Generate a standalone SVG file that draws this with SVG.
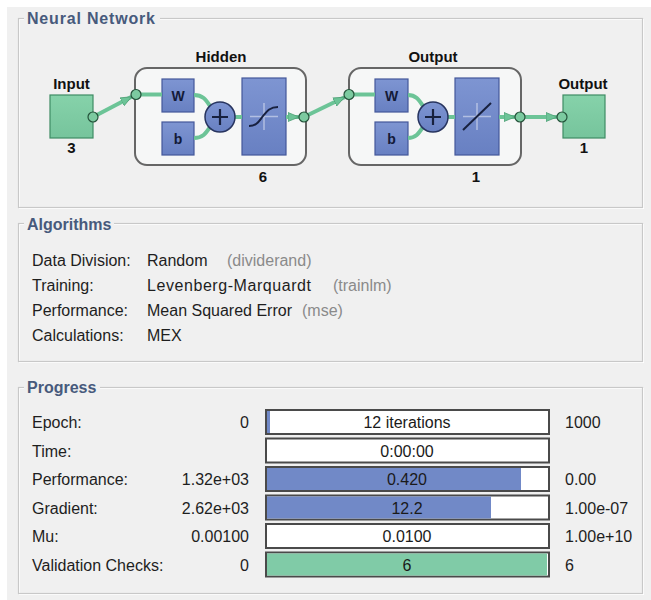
<svg xmlns="http://www.w3.org/2000/svg" width="651" height="600" viewBox="0 0 651 600">
<defs>
<style>
.frame{fill:none;stroke:#c8c8c8;stroke-width:1.2}
.frameHi{fill:none;stroke:#ffffff;stroke-width:1}
.title{font-family:"Liberation Sans",Arial,sans-serif;font-weight:bold;font-size:16px;fill:#475a7c}
.txt{font-family:"Liberation Sans",Arial,sans-serif;font-size:16px;fill:#1e1e1e}
.gray{font-family:"Liberation Sans",Arial,sans-serif;font-size:16px;fill:#8a8a8a}
.lbl{font-family:"Liberation Sans",Arial,sans-serif;font-weight:bold;font-size:15px;fill:#111;text-anchor:middle}
.box{font-family:"Liberation Sans",Arial,sans-serif;font-weight:bold;font-size:14px;fill:#131a38;text-anchor:middle}
.layer{fill:#f6f7f7;stroke:#666;stroke-width:2}
.blue{fill:url(#gBlue);stroke:#44589a;stroke-width:1.2}
.green{fill:url(#gGreen);stroke:#3f8c64;stroke-width:1.2}
.dot{fill:#7ccaa0;stroke:#24523a;stroke-width:1.2}
.wire{fill:none;stroke:#6cc497;stroke-width:4}
.bar{fill:#ffffff;stroke:#4a4a4a;stroke-width:2}
.bt{font-family:"Liberation Sans",Arial,sans-serif;font-size:16px;fill:#1a1a1a;text-anchor:middle}
.val{font-family:"Liberation Sans",Arial,sans-serif;font-size:16px;fill:#1e1e1e;text-anchor:end}
</style>
<linearGradient id="gBlue" x1="0" y1="0" x2="0" y2="1">
<stop offset="0" stop-color="#7e95d2"/><stop offset="1" stop-color="#6880c2"/>
</linearGradient>
<linearGradient id="gGreen" x1="0" y1="0" x2="0" y2="1">
<stop offset="0" stop-color="#86d2aa"/><stop offset="1" stop-color="#76c49c"/>
</linearGradient>
<marker id="arr" markerWidth="12" markerHeight="10" refX="11" refY="5" orient="auto" markerUnits="userSpaceOnUse">
<path d="M0,0.5 L11,5 L0,9.5 Z" fill="#6cc497" stroke="#4f9f76" stroke-width="0.8"/>
</marker>
</defs>

<rect x="0" y="0" width="651" height="600" fill="#ffffff"/>
<rect x="7" y="7" width="644" height="593" fill="#f0f0f0"/>

<!-- frames -->
<g id="frames">
<rect class="frameHi" x="19.5" y="19.5" width="624" height="189"/>
<rect class="frame" x="18.5" y="18.5" width="624" height="189"/>
<rect class="frameHi" x="19.5" y="224.5" width="624" height="138"/>
<rect class="frame" x="18.5" y="223.5" width="624" height="138"/>
<rect class="frameHi" x="19.5" y="388.5" width="624" height="206"/>
<rect class="frame" x="18.5" y="387.5" width="624" height="206"/>
<rect x="24" y="8" width="136" height="16" fill="#f0f0f0"/>
<rect x="24" y="214" width="90" height="16" fill="#f0f0f0"/>
<rect x="24" y="378" width="76" height="16" fill="#f0f0f0"/>
<text class="title" x="27" y="24" textLength="128">Neural Network</text>
<text class="title" x="27" y="230">Algorithms</text>
<text class="title" x="27" y="393">Progress</text>
</g>

<!-- input node -->
<g id="input">
<text class="lbl" x="71.5" y="89">Input</text>
<rect class="green" x="50" y="95" width="43" height="43"/>
<text class="lbl" x="71.5" y="153">3</text>
</g>

<!-- hidden layer -->
<g id="hidden">
<text class="lbl" x="221" y="62">Hidden</text>
<rect class="layer" x="135" y="68" width="171" height="97" rx="12"/>
<rect class="blue" x="162" y="79" width="32" height="33"/>
<text class="box" x="178" y="100.5">W</text>
<rect class="blue" x="162" y="122" width="32" height="33"/>
<text class="box" x="178" y="143.5">b</text>
<rect class="blue" x="242" y="78" width="44" height="77"/>
<path d="M250,116.5 H278 M264,103 V130" stroke="#ffffff" stroke-opacity="0.45" stroke-width="1.5" fill="none"/>
<path d="M249,126 C257,126 259,121 263,116 S270,107 278,107" stroke="#18213f" stroke-width="2" fill="none"/>
<text class="lbl" x="263" y="182">6</text>
</g>

<!-- output layer -->
<g id="outlayer">
<text class="lbl" x="433" y="62">Output</text>
<rect class="layer" x="349" y="68" width="172" height="97" rx="12"/>
<rect class="blue" x="375" y="79" width="33" height="33"/>
<text class="box" x="391.5" y="100.5">W</text>
<rect class="blue" x="375" y="122" width="33" height="33"/>
<text class="box" x="391.5" y="143.5">b</text>
<rect class="blue" x="455" y="78" width="44" height="77"/>
<path d="M463,116.5 H491 M477,103 V130" stroke="#ffffff" stroke-opacity="0.45" stroke-width="1.5" fill="none"/>
<path d="M463,130 L491,103" stroke="#18213f" stroke-width="2" fill="none"/>
<text class="lbl" x="476" y="182">1</text>
</g>

<!-- output node -->
<g id="output">
<text class="lbl" x="583" y="89">Output</text>
<rect class="green" x="563" y="95" width="42" height="43"/>
<text class="lbl" x="584" y="153">1</text>
</g>

<!-- connectors -->
<g id="connectors">
<line class="wire" x1="93" y1="117" x2="131.6" y2="96.8" marker-end="url(#arr)"/>
<line class="wire" x1="136" y1="94.5" x2="162" y2="94.5"/>
<path class="wire" d="M194,95 C203,95 206,100 210,106"/>
<path class="wire" d="M194,138 C203,138 206,133 210,127"/>
<line class="wire" x1="234" y1="117" x2="242" y2="117"/>
<line class="wire" x1="286" y1="117" x2="299" y2="117" marker-end="url(#arr)"/>
<line class="wire" x1="308.5" y1="114.8" x2="344.5" y2="97.2" marker-end="url(#arr)"/>
<line class="wire" x1="349" y1="94.5" x2="375" y2="94.5"/>
<path class="wire" d="M408,95 C416,95 419,100 423,106"/>
<path class="wire" d="M408,138 C416,138 419,133 423,127"/>
<line class="wire" x1="447" y1="117" x2="455" y2="117"/>
<line class="wire" x1="499" y1="117" x2="515" y2="117" marker-end="url(#arr)"/>
<line class="wire" x1="525" y1="117" x2="557" y2="117" marker-end="url(#arr)"/>
</g>

<!-- summing junctions -->
<g id="sum-hidden">
<circle cx="220" cy="117" r="15" fill="url(#gBlue)" stroke="#27345f" stroke-width="1.5"/>
<path d="M212,117 H228 M220,109 V125" stroke="#18213f" stroke-width="2.2" fill="none"/>
</g>
<g id="sum-output">
<circle cx="433" cy="117" r="15" fill="url(#gBlue)" stroke="#27345f" stroke-width="1.5"/>
<path d="M425,117 H441 M433,109 V125" stroke="#18213f" stroke-width="2.2" fill="none"/>
</g>

<!-- ports -->
<g id="ports">
<circle class="dot" cx="93" cy="117" r="5"/>
<circle class="dot" cx="136" cy="94.5" r="5"/>
<circle class="dot" cx="304" cy="117" r="5"/>
<circle class="dot" cx="349" cy="94.5" r="5"/>
<circle class="dot" cx="520" cy="117" r="5"/>
<circle class="dot" cx="562" cy="117" r="5"/>
</g>

<!-- algorithms -->
<g id="algorithms">
<text class="txt" x="32" y="266">Data Division:</text>
<text class="txt" x="147" y="266">Random</text>
<text class="gray" x="227" y="266">(dividerand)</text>
<text class="txt" x="32" y="291">Training:</text>
<text class="txt" x="147" y="291" textLength="164">Levenberg-Marquardt</text>
<text class="gray" x="333" y="291">(trainlm)</text>
<text class="txt" x="32" y="316">Performance:</text>
<text class="txt" x="147" y="316">Mean Squared Error</text>
<text class="gray" x="302" y="316">(mse)</text>
<text class="txt" x="32" y="341">Calculations:</text>
<text class="txt" x="147" y="341">MEX</text>
</g>

<!-- progress -->
<g id="progress">
<text class="txt" x="32" y="428">Epoch:</text>
<text class="val" x="249" y="428">0</text>
<rect class="bar" x="266" y="410" width="283" height="24"/>
<rect x="267" y="411" width="3" height="22" fill="#7189c7"/>
<text class="bt" x="407" y="428">12 iterations</text>
<text class="txt" x="565" y="428">1000</text>

<text class="txt" x="32" y="456.5">Time:</text>
<rect class="bar" x="266" y="438.5" width="283" height="24"/>
<text class="bt" x="407" y="456.5">0:00:00</text>

<text class="txt" x="32" y="485">Performance:</text>
<text class="val" x="249" y="485">1.32e+03</text>
<rect class="bar" x="266" y="467" width="283" height="24"/>
<rect x="267" y="468" width="254" height="22" fill="#7189c7"/>
<text class="bt" x="407" y="485">0.420</text>
<text class="txt" x="565" y="485">0.00</text>

<text class="txt" x="32" y="513.5">Gradient:</text>
<text class="val" x="249" y="513.5">2.62e+03</text>
<rect class="bar" x="266" y="495.5" width="283" height="24"/>
<rect x="267" y="496.5" width="224" height="22" fill="#7189c7"/>
<text class="bt" x="407" y="513.5">12.2</text>
<text class="txt" x="565" y="513.5">1.00e-07</text>

<text class="txt" x="32" y="542">Mu:</text>
<text class="val" x="249" y="542">0.00100</text>
<rect class="bar" x="266" y="524" width="283" height="24"/>
<text class="bt" x="407" y="542">0.0100</text>
<text class="txt" x="565" y="542">1.00e+10</text>

<text class="txt" x="32" y="570.5">Validation Checks:</text>
<text class="val" x="249" y="570.5">0</text>
<rect class="bar" x="266" y="552.5" width="283" height="24"/>
<rect x="267" y="553.5" width="280" height="22" fill="#80cba7"/>
<text class="bt" x="407" y="570.5">6</text>
<text class="txt" x="565" y="570.5">6</text>
</g>
</svg>
